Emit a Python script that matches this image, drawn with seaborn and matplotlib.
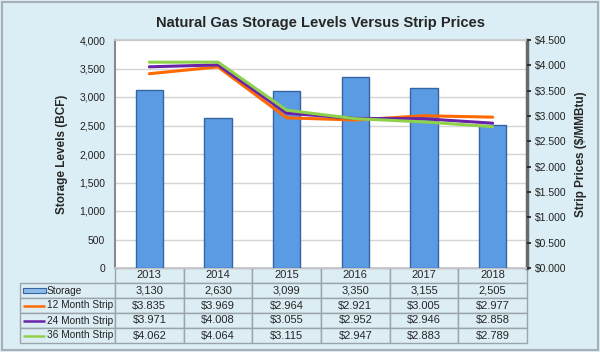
import numpy as np
import pandas as pd
import matplotlib
matplotlib.use("Agg")
import matplotlib.pyplot as plt
import matplotlib.patches as mpatches
from matplotlib.table import Table
import seaborn as sns

years = ["2013", "2014", "2015", "2016", "2017", "2018"]
storage = [3130, 2630, 3099, 3350, 3155, 2505]
strip_12 = [3.835, 3.969, 2.964, 2.921, 3.005, 2.977]
strip_24 = [3.971, 4.008, 3.055, 2.952, 2.946, 2.858]
strip_36 = [4.062, 4.064, 3.115, 2.947, 2.883, 2.789]

series_names = ["12 Month Strip", "24 Month Strip", "36 Month Strip"]
series_colors = ["#ff6a00", "#6a22a8", "#8fd14a"]

BG = "#dbeef5"
CELL = "#dcedf3"
EDGE = "#9aa4ab"


def draw_chart():
    sns.set_theme(style="white")
    plt.rcParams["font.family"] = ["Liberation Sans", "DejaVu Sans"]

    fig = plt.figure(figsize=(6, 3.52), dpi=100, facecolor=BG)
    fig.patches.append(mpatches.Rectangle((0.004, 0.006), 0.992, 0.988,
                                          transform=fig.transFigure, fill=False,
                                          edgecolor="#a8b0b5", linewidth=1.5))
    ax = fig.add_axes([115 / 600, 1 - 268 / 352, 412 / 600, 228 / 352])
    ax.set_facecolor("white")

    df = pd.DataFrame({"year": years, "storage": storage})
    sns.barplot(data=df, x="year", y="storage", ax=ax, color="#5b9be3",
                width=0.4, edgecolor="#3565a0", linewidth=1.0, saturation=1,
                zorder=3)
    ax.set_ylim(0, 4000)
    ax.set_xlim(-0.5, len(years) - 0.5)
    ax.set_yticks(np.arange(0, 4001, 500))
    ax.yaxis.set_major_formatter(plt.FuncFormatter(lambda v, p: f"{v:,.0f}"))
    ax.grid(axis="y", color="#d4d4d4", linewidth=1.0, zorder=0)
    ax.set_axisbelow(True)
    ax.tick_params(axis="y", labelsize=7.5, length=0, pad=7, colors="#222222")
    ax.set_xticks([])
    ax.set_xlabel("")
    ax.set_ylabel("Storage Levels (BCF)", fontsize=8.5, fontweight="bold",
                  labelpad=8)
    for side in ["top", "bottom"]:
        ax.spines[side].set_color("#c8c8c8")
    ax.spines["left"].set_color("#8a8a8a")
    ax.spines["left"].set_linewidth(1.5)
    ax.spines["right"].set_color("#6a6a6a")
    ax.spines["right"].set_linewidth(2.5)

    ax2 = ax.twinx()
    pos = np.arange(len(years))
    for name, vals, col in zip(series_names, [strip_12, strip_24, strip_36],
                               series_colors):
        sns.lineplot(x=pos, y=vals, ax=ax2, color=col, linewidth=2.2,
                     zorder=4, legend=False)
    ax2.set_ylim(0, 4.5)
    ax2.set_yticks(np.arange(0, 4.51, 0.5))
    ax2.yaxis.set_major_formatter(plt.FuncFormatter(lambda v, p: f"${v:.3f}"))
    ax2.tick_params(axis="y", labelsize=7.5, length=3, pad=3, colors="#222222")
    ax2.set_ylabel("Strip Prices ($/MMBtu)", fontsize=8.5, fontweight="bold",
                   labelpad=6)
    for s in ax2.spines.values():
        s.set_visible(False)

    ax.set_title("Natural Gas Storage Levels Versus Strip Prices",
                 fontsize=10.5, fontweight="bold", pad=9)

    # data table under the plot
    label_w = 95 / 412
    tab = Table(ax, bbox=[-label_w, -75 / 228, 1 + label_w, 75 / 228])
    col_w = 1 / len(years)
    rows = [[f"{v:,}" for v in storage]] + [
        [f"${v:.3f}" for v in vals] for vals in [strip_12, strip_24, strip_36]]
    for j, y in enumerate(years):
        c = tab.add_cell(0, j + 1, col_w, 1, text=y, loc="center",
                         facecolor=CELL, edgecolor=EDGE)
        c.get_text().set_fontsize(8)
    for i, row in enumerate(rows):
        c = tab.add_cell(i + 1, 0, label_w, 1, text="", facecolor=CELL,
                         edgecolor=EDGE)
        for j, txt in enumerate(row):
            c = tab.add_cell(i + 1, j + 1, col_w, 1, text=txt, loc="center",
                             facecolor=CELL, edgecolor=EDGE)
            c.get_text().set_fontsize(8)
    tab.auto_set_font_size(False)
    ax.add_table(tab)

    # row labels with swatches
    labels = ["Storage"] + series_names
    row_h = 75 / 228 / 5
    for i, lab in enumerate(labels):
        yc = -row_h * (i + 1.5)
        if i == 0:
            ax.add_patch(mpatches.Rectangle((-92 / 412, yc - 0.009), 23 / 412,
                                            0.018, transform=ax.transAxes,
                                            facecolor="#8cbcea",
                                            edgecolor="#3565a0",
                                            linewidth=0.8, clip_on=False))
            tx = -68 / 412
        else:
            ax.plot([-92 / 412, -70 / 412], [yc, yc], transform=ax.transAxes,
                    color=series_colors[i - 1], linewidth=1.8, clip_on=False,
                    solid_capstyle="butt")
            tx = -68 / 412
        ax.text(tx, yc, lab, transform=ax.transAxes, fontsize=7.3,
                ha="left", va="center", color="#222222")

    fig.savefig("out.png", dpi=100, facecolor=BG)


def main():
    draw_chart()


if __name__ == "__main__":
    main()
